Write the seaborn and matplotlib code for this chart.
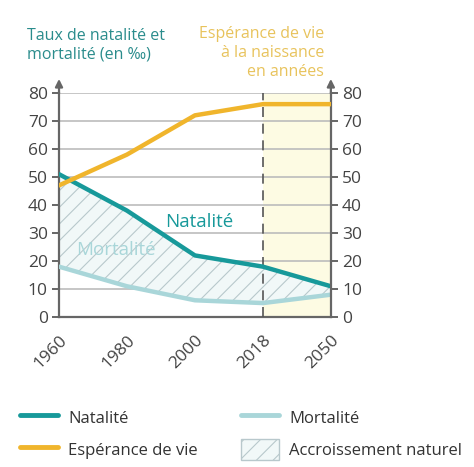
import matplotlib
matplotlib.use("Agg")
import matplotlib.pyplot as plt
import seaborn as sns
import pandas as pd
from matplotlib.lines import Line2D
from matplotlib.patches import Patch

years = ["1960", "1980", "2000", "2018", "2050"]
natalite = [51, 38, 22, 18, 11]
mortalite = [18, 11, 6, 5, 8]
esperance = [47, 58, 72, 76, 76]
yticks = [0, 10, 20, 30, 40, 50, 60, 70, 80]

TEAL = "#17999a"
LIGHT = "#a9d6d9"
YEL = "#f0b52c"
GREY = "#666666"
TXT = "#444444"

sns.set_theme(style="white")
plt.rcParams["font.family"] = ["Open Sans", "DejaVu Sans"]
plt.rcParams["hatch.linewidth"] = 0.8

idx = list(range(len(years)))
df = pd.DataFrame({"x": idx * 2,
                   "val": natalite + mortalite,
                   "serie": ["Natalité"] * 5 + ["Mortalité"] * 5})
dfe = pd.DataFrame({"x": idx, "val": esperance})

fig = plt.figure(figsize=(4.74, 4.67), dpi=100)
ax = fig.add_axes([0.1245, 0.321, 0.5735, 0.480])
ax2 = ax.twinx()

# projection area
ax.axvspan(3, 4, color="#fdfbe3", zorder=0, lw=0)
for y in yticks[1:]:
    ax.axhline(y, color="#bcbcbc", lw=1.2, zorder=1)

ax.fill_between(idx, natalite, mortalite, facecolor="#f1f8f8", edgecolor="#b8c8cc",
                hatch="//", lw=0, zorder=2)

ax.axvline(3, color="#555555", lw=1.2, ls=(0, (6, 4)), zorder=3)

sns.lineplot(data=df, x="x", y="val", hue="serie", palette={"Natalité": TEAL, "Mortalité": LIGHT},
             lw=3.2, ax=ax, legend=False, zorder=4)
sns.lineplot(data=dfe, x="x", y="val", color=YEL, lw=3.2, ax=ax2, legend=False, zorder=4)

for a in (ax, ax2):
    a.set_xlim(0, 4)
    a.set_ylim(0, 80)
    a.set_yticks(yticks)
    a.set_xlabel("")
    a.set_ylabel("")
    for s in a.spines.values():
        s.set_visible(False)
    a.grid(False)

ax.spines["left"].set_visible(True)
ax.spines["bottom"].set_visible(True)
ax2.spines["right"].set_visible(True)
for s in (ax.spines["left"], ax.spines["bottom"], ax2.spines["right"]):
    s.set_color(GREY)
    s.set_linewidth(1.6)

ax.set_xticks(idx)
ax.set_xticklabels(years, rotation=45, ha="right", rotation_mode="anchor")
ax.tick_params(axis="both", direction="out", length=5, width=1.4, color=GREY,
               labelsize=12.5, labelcolor=TXT, pad=3)
ax.tick_params(axis="x", pad=6)
ax2.tick_params(axis="y", direction="out", length=5, width=1.4, color=GREY,
                labelsize=12.5, labelcolor=TXT, pad=3)
ax.patch.set_visible(False)

for xx in (0, 4):
    ax.annotate("", xy=(xx, 85), xytext=(xx, 79.8), annotation_clip=False,
                arrowprops=dict(arrowstyle="-|>", color=GREY, lw=1.6, mutation_scale=11,
                                shrinkA=0, shrinkB=0))

ax.text(2.07, 34, "Natalité", color=TEAL, fontsize=13.5, ha="center", va="center", zorder=5)
ax.text(0.84, 24, "Mortalité", color=LIGHT, fontsize=13.5, ha="center", va="center", zorder=5)

fig.text(27 / 474, 1 - 45 / 467, "Taux de natalité et\nmortalité (en ‰)", color="#2a8c8c",
         fontsize=11.5, ha="left", va="center", linespacing=1.25)
fig.text(324 / 474, 1 - 53 / 467, "Espérance de vie\nà la naissance\nen années", color="#e8c35c",
         fontsize=11.5, ha="right", va="center", linespacing=1.25, multialignment="right")

handles = [Line2D([], [], color=TEAL, lw=3.5),
           Line2D([], [], color=YEL, lw=3.5),
           Line2D([], [], color=LIGHT, lw=3.5),
           Patch(facecolor="#f1f8f8", edgecolor="#b8c8cc", hatch="//", lw=1)]
labels = ["Natalité", "Espérance de vie", "Mortalité", "Accroissement naturel"]
leg = fig.legend(handles, labels, ncol=2, loc="upper left",
                 frameon=False, fontsize=12, handlelength=2.3, handleheight=1.6,
                 columnspacing=2.6, labelspacing=0.6, handletextpad=0.6,
                 bbox_to_anchor=(0.01, 0.16), bbox_transform=fig.transFigure)
for t in leg.get_texts():
    t.set_color("#333333")

fig.savefig("out.png", dpi=100)
